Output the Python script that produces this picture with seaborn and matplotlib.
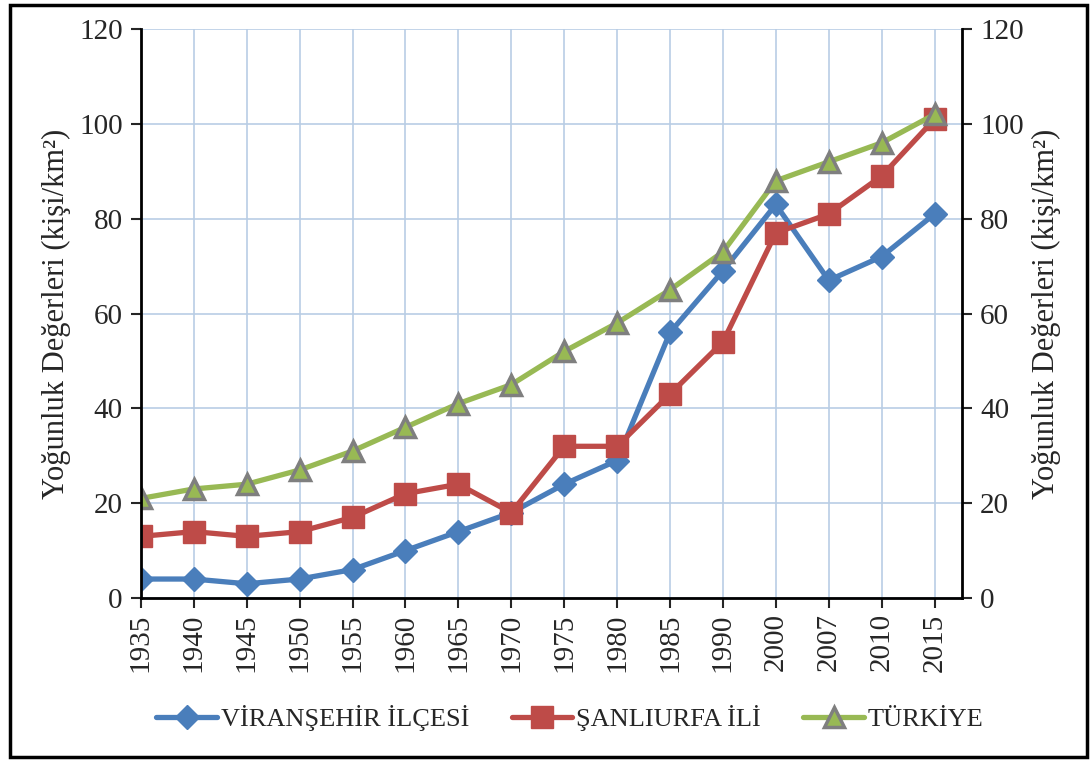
import numpy as np
import pandas as pd
import seaborn as sns
import matplotlib.pyplot as plt
from matplotlib.patches import Rectangle

# Chart data
years = ['1935', '1940', '1945', '1950', '1955', '1960', '1965', '1970',
         '1975', '1980', '1985', '1990', '2000', '2007', '2010', '2015']
viransehir = [4, 4, 3, 4, 6, 10, 14, 18, 24, 29, 56, 69, 83, 67, 72, 81]
sanliurfa = [13, 14, 13, 14, 17, 22, 24, 18, 32, 32, 43, 54, 77, 81, 89, 101]
turkiye = [21, 23, 24, 27, 31, 36, 41, 45, 52, 58, 65, 73, 88, 92, 96, 102]
series_names = ['VİRANŞEHİR İLÇESİ', 'ŞANLIURFA İLİ', 'TÜRKİYE']
y_label = 'Yoğunluk Değerleri (kişi/km²)'

sns.set_theme(style='white')
plt.rcParams['font.family'] = ['Liberation Serif', 'DejaVu Serif']

fig = plt.figure(figsize=(10.92, 7.65), dpi=100)
ax = fig.add_axes([0.129, 0.2183, 0.752, 0.7437])

pos = np.arange(len(years))
styles = [
    dict(color='#4A7EBB', marker='D', markersize=12, markeredgecolor='#4A7EBB', markeredgewidth=1),
    dict(color='#BE4B48', marker='s', markersize=16, markeredgecolor='#BE4B48', markeredgewidth=1),
    dict(color='#98B954', marker='^', markersize=15, markeredgecolor='#7F7F7F',
         markerfacecolor='#98B954', markeredgewidth=2.5),
]
for name, vals, st in zip(series_names, [viransehir, sanliurfa, turkiye], styles):
    sns.lineplot(x=pos, y=vals, ax=ax, label=name, linewidth=3.8, **st)

ax.set_xlim(0, 15.52)
ax.set_ylim(0, 120)
ax.set_xticks(pos)
ax.set_xticklabels(years, rotation=90, fontsize=21)
ax.set_yticks(np.arange(0, 121, 20))
ax.tick_params(axis='y', labelsize=21, direction='out', length=7, width=1.5, left=True, pad=6)
ax.tick_params(axis='x', direction='out', length=7, width=1.5, bottom=True, pad=4)
ax.grid(True, color='#B9CDE5', linewidth=1.2)
ax.set_axisbelow(True)
for side in ['top', 'right']:
    ax.spines[side].set_visible(False)
for side in ['left', 'bottom']:
    ax.spines[side].set_color('black')
    ax.spines[side].set_linewidth(2)
ax.set_ylabel(y_label, fontsize=22, labelpad=6)
ax.set_xlabel('')

ax2 = ax.twinx()
ax2.set_ylim(0, 120)
ax2.set_yticks(np.arange(0, 121, 20))
ax2.tick_params(axis='y', labelsize=21, direction='out', length=7, width=1.5, right=True, pad=6)
for side in ['top', 'left', 'bottom']:
    ax2.spines[side].set_visible(False)
ax2.spines['right'].set_color('black')
ax2.spines['right'].set_linewidth(2)
ax2.set_ylabel(y_label, fontsize=22, labelpad=6)

handles, labels = ax.get_legend_handles_labels()
ax.get_legend().remove()
fig.legend(handles, labels, loc='center', bbox_to_anchor=(0.522, 0.061), ncol=3,
           frameon=False, fontsize=19, handlelength=2.3, columnspacing=1.6, handletextpad=0.15)

fig.patches.append(Rectangle((0.009, 0.01), 0.986, 0.983, transform=fig.transFigure,
                             fill=False, edgecolor='black', linewidth=2.5))

fig.savefig('out.png', dpi=100)
